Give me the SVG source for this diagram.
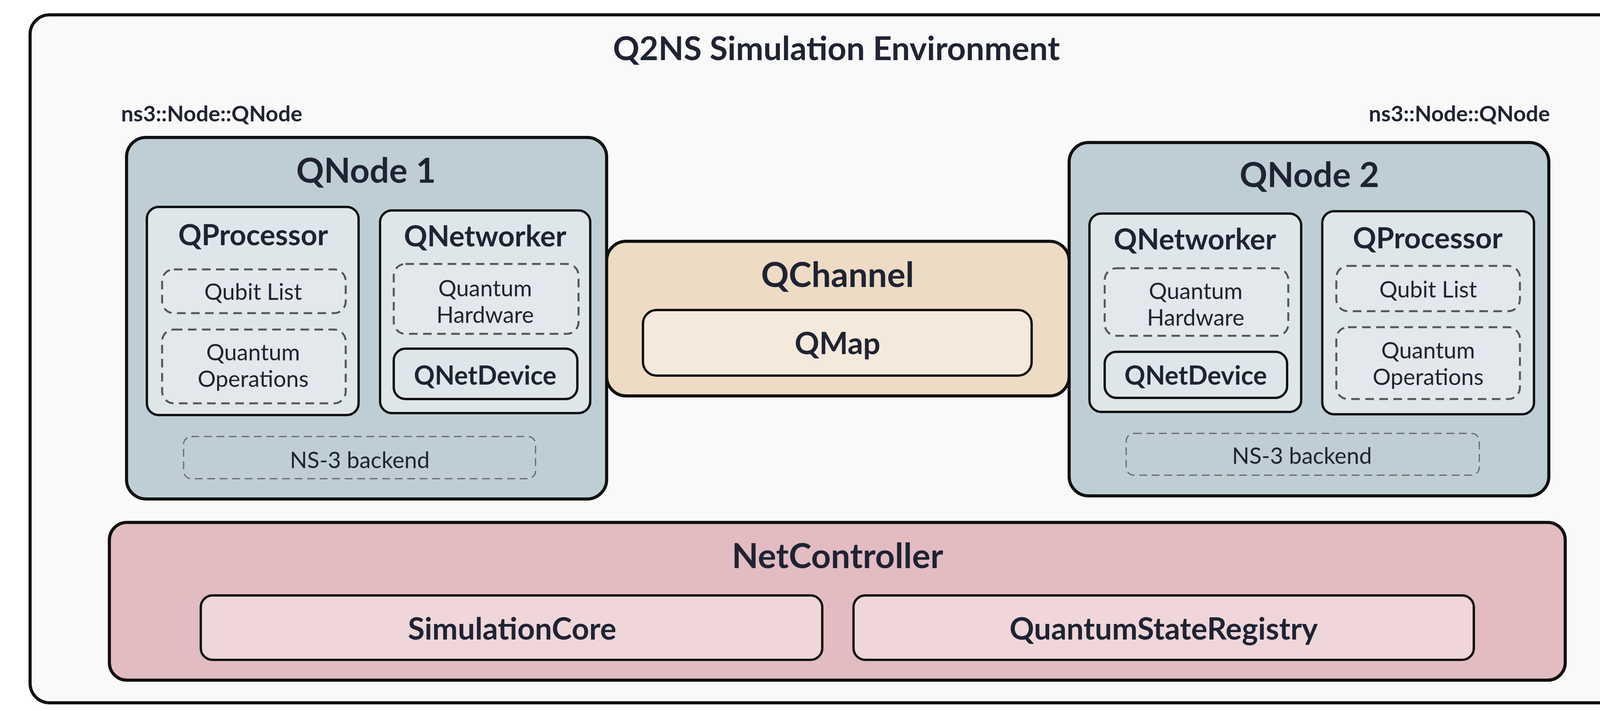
<svg xmlns="http://www.w3.org/2000/svg" width="4271" height="1821" viewBox="0 0 4271 1821">
<style>
text{font-family:Lato,"Open Sans","Liberation Sans",sans-serif;fill:#1f2333;text-anchor:middle;dominant-baseline:central}
.b{font-weight:bold}
.solid{stroke:#111;stroke-width:8}
.in{fill:#dfe6ea;stroke:#111;stroke-width:6}
.dash{fill:#e2e8eb;stroke:#555;stroke-width:5;stroke-dasharray:22 14}
.ns{fill:none;stroke:#666;stroke-width:3;stroke-dasharray:20 12}
.t1{font-size:88px}
.t2{font-size:74px}
.t3{font-size:58px}
.t4{font-size:66px}
.t5{font-size:78px}
</style>
<rect width="4271" height="1821" fill="#fff"/>
<g id="env">
<rect x="77" y="38" width="4130" height="1762" rx="50" fill="#f9f9f9" class="solid"/>
<text x="2141" y="121" class="b" font-size="84">Q2NS Simulation Environment</text>
<text x="310" y="289" class="b" font-size="56" style="text-anchor:start">ns3::Node::QNode</text>
<text x="3968" y="289" class="b" font-size="56" style="text-anchor:end">ns3::Node::QNode</text>
</g>
<g id="connectors"></g>
<g id="qnode1">
<rect x="324" y="352" width="1229" height="926" rx="50" fill="#bfced5" class="solid"/>
<text x="937" y="434" class="b t1">QNode 1</text>
<g id="qproc1">
<rect x="376" y="530" width="542" height="533" rx="30" class="in"/>
<text x="648" y="599" class="b t2">QProcessor</text>
<rect x="415" y="690" width="470" height="112" rx="30" class="dash"/>
<text x="648" y="745" class="t3">Qubit List</text>
<rect x="415" y="844" width="470" height="189" rx="30" class="dash"/>
<text x="648" y="900" class="t3">Quantum</text>
<text x="648" y="968" class="t3">Operations</text>
</g>
<g id="qnet1">
<rect x="973" y="539" width="538" height="519" rx="30" class="in"/>
<text x="1242" y="602" class="b t2">QNetworker</text>
<rect x="1008" y="676" width="473" height="179" rx="30" class="dash"/>
<text x="1242" y="736" class="t3">Quantum</text>
<text x="1242" y="804" class="t3">Hardware</text>
<rect x="1008" y="893" width="470" height="129" rx="30" class="in"/>
<text x="1242" y="959" class="b t4">QNetDevice</text>
</g>
<rect x="470" y="1118" width="901" height="108" rx="20" class="ns"/>
<text x="921" y="1176" class="t3">NS-3 backend</text>
</g>
<g id="qchannel">
<rect x="1553" y="618" width="1184" height="396" rx="50" fill="#eddbc3" class="solid"/>
<text x="2144" y="701" class="b t1">QChannel</text>
<rect x="1646" y="794" width="995" height="168" rx="35" fill="#f5e9dc" stroke="#111" stroke-width="6"/>
<text x="2144" y="877" class="b t5">QMap</text>
</g>
<g id="qnode2">
<rect x="2737" y="365" width="1228" height="905" rx="50" fill="#bfced5" class="solid"/>
<text x="3352" y="445" class="b t1">QNode 2</text>
<g id="qnet2">
<rect x="2789" y="547" width="542" height="508" rx="30" class="in"/>
<text x="3059" y="610" class="b t2">QNetworker</text>
<rect x="2828" y="687" width="470" height="173" rx="30" class="dash"/>
<text x="3061" y="743" class="t3">Quantum</text>
<text x="3061" y="811" class="t3">Hardware</text>
<rect x="2828" y="901" width="467" height="118" rx="30" class="in"/>
<text x="3061" y="959" class="b t4">QNetDevice</text>
</g>
<g id="qproc2">
<rect x="3385" y="541" width="542" height="520" rx="30" class="in"/>
<text x="3655" y="607" class="b t2">QProcessor</text>
<rect x="3421" y="681" width="470" height="116" rx="30" class="dash"/>
<text x="3656" y="739" class="t3">Qubit List</text>
<rect x="3421" y="838" width="470" height="184" rx="30" class="dash"/>
<text x="3656" y="895" class="t3">Quantum</text>
<text x="3656" y="963" class="t3">Operations</text>
</g>
<rect x="2883" y="1110" width="904" height="107" rx="20" class="ns"/>
<text x="3333" y="1165" class="t3">NS-3 backend</text>
</g>
<g id="netcontroller">
<rect x="280" y="1338" width="3727" height="404" rx="45" fill="#e2bcc0" class="solid"/>
<text x="2144" y="1421" class="b t1">NetController</text>
<rect x="514" y="1525" width="1591" height="165" rx="30" fill="#eed6d9" stroke="#111" stroke-width="6"/>
<text x="1311" y="1608" class="b t5">SimulationCore</text>
<rect x="2185" y="1525" width="1588" height="165" rx="30" fill="#eed6d9" stroke="#111" stroke-width="6"/>
<text x="2979" y="1608" class="b t5">QuantumStateRegistry</text>
</g>
</svg>
